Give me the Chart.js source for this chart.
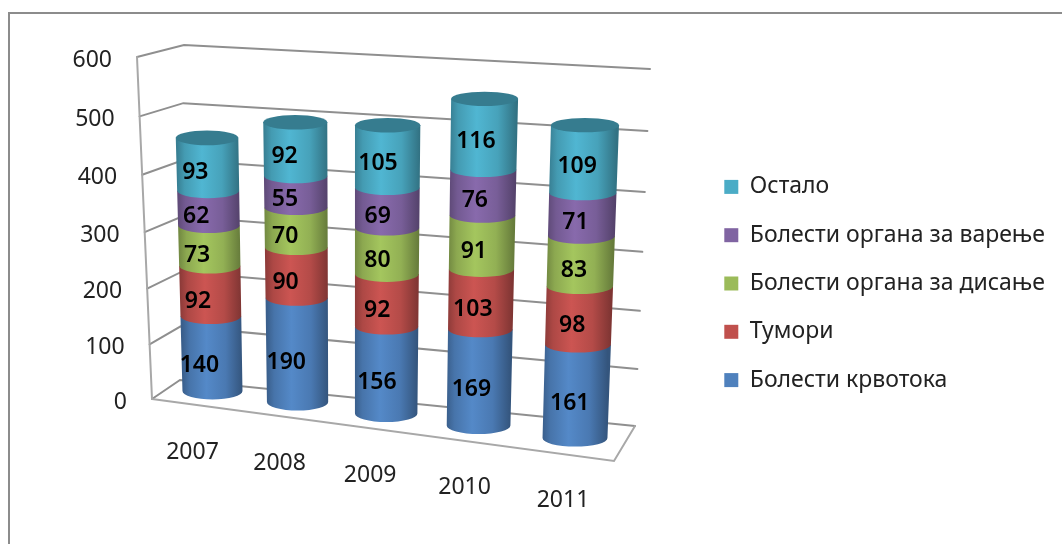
<!DOCTYPE html>
<html lang="sr">
<head>
  <meta charset="UTF-8">
  <title>Болести</title>
  <script src="https://cdn.jsdelivr.net/npm/chart.js@4"></script>
  <style>
    html, body { margin:0; padding:0; background:#fff; overflow:hidden; }
    #wrap { position:relative; width:1062px; height:544px; }
    #frame { position:absolute; left:8px; top:12px; width:1070px; height:560px; border:2px solid #8c8c8c; }
    canvas { position:absolute; left:0; top:0; }
  </style>
</head>
<body>
<div id="wrap">
  <div id="frame"></div>
  <canvas id="chart" width="1062" height="544"></canvas>
</div>

<script>
const years    = ['2007', '2008', '2009', '2010', '2011'];
const krvotok  = [140, 190, 156, 169, 161];
const tumori   = [92, 90, 92, 103, 98];
const disanje  = [73, 70, 80, 91, 83];
const varenje  = [62, 55, 69, 76, 71];
const ostalo   = [93, 92, 105, 116, 109];

const FONT = '"Noto Sans", "Open Sans", sans-serif';

// corners of the 3D box on screen, [x, y]
const frontL0 = [152, 399], frontL1 = [137, 57];
const backL0  = [180, 380], backL1  = [184, 45];
const backR0  = [635, 426], backR1  = [650, 69];
const frontR0 = [614, 461];
// plane the cylinders stand in
const midL0 = [171.2, 385.6], midR0 = [624.8, 444.6];
const midL1 = [161.9, 54.8],  midR1 = [638.9, 78.7];

const lerp = (a, b, t) => a + (b - a) * t;
const mix  = (p, q, t) => [lerp(p[0], q[0], t), lerp(p[1], q[1], t)];
// small perspective squeeze along the two axes
const warp = (t, k) => t / (k - (k - 1) * t);

function project(u, v) {
  const uu = warp(u, 1.11), vv = warp(v, 1.05);
  return mix(mix(midL0, midR0, uu), mix(midL1, midR1, uu), vv);
}

function shade(rgb, f) {
  return `rgb(${rgb.map(c => Math.min(255, Math.round(c * f))).join(',')})`;
}

const cylinders = {
  id: 'cylinders',
  beforeDatasetsDraw(chart) {
    const { ctx, chartArea: area, scales } = chart;
    const yScale = scales.y;
    const W = midR0[0] - midL0[0];
    const toU = px => (px - area.left) / area.width;
    const toV = px => (area.bottom - px) / area.height;

    ctx.save();
    ctx.lineCap = 'round';

    // walls and floor
    ctx.strokeStyle = '#8f8f8f';
    ctx.lineWidth = 2;
    const line = pts => {
      ctx.beginPath();
      pts.forEach((p, i) => i ? ctx.lineTo(p[0], p[1]) : ctx.moveTo(p[0], p[1]));
      ctx.stroke();
    };
    yScale.ticks.forEach(t => {
      const v = warp(toV(yScale.getPixelForValue(t.value)), 1.05);
      line([mix(frontL0, frontL1, v), mix(backL0, backL1, v), mix(backR0, backR1, v)]);
    });
    ctx.strokeStyle = '#a8a8a8';
    line([frontL0, frontL1]);
    line([frontL0, frontR0, backR0]);

    // axis text
    ctx.fillStyle = '#222';
    ctx.font = `23px ${FONT}`;
    ctx.textBaseline = 'middle';
    ctx.textAlign = 'right';
    yScale.ticks.forEach(t => {
      const v = warp(toV(yScale.getPixelForValue(t.value)), 1.05);
      const p = mix(frontL0, frontL1, v);
      ctx.fillText(t.label, p[0] - 25, p[1] + 3);
    });

    ctx.textAlign = 'center';
    const metas = chart.getSortedVisibleDatasetMetas();
    metas[0].data.forEach((bar, i) => {
      const u = toU(bar.x), p = project(u, 0);
      const floorY = lerp(frontL0[1], frontR0[1], (p[0] - frontL0[0]) / (frontR0[0] - frontL0[0]));
      ctx.fillText(years[i], p[0] + lerp(-21, -11, u), floorY + 45);
    });

    // cylinders, bottom segment first so each upper edge bulges over the one below
    metas[0].data.forEach((_, i) => {
      metas.forEach((meta, m) => {
        const bar = meta.data[i];
        const u = toU(bar.x), vTop = toV(bar.y), vBase = toV(bar.base);
        const size = v => bar.width / area.width * W * lerp(0.97, 1.07, u) * (1 + 0.055 * v);
        const ry = v => lerp(8.5, 7, v);
        const top = project(u, vTop), base = project(u, vBase);
        const rt = size(vTop) / 2, rb = size(vBase) / 2;
        const col = meta._dataset.baseRgb;

        const g = ctx.createLinearGradient(base[0] - rb, 0, base[0] + rb, 0);
        g.addColorStop(0, shade(col, 0.74));
        g.addColorStop(0.12, shade(col, 0.9));
        g.addColorStop(0.4, shade(col, 1.06));
        g.addColorStop(0.72, shade(col, 0.94));
        g.addColorStop(1, shade(col, 0.66));
        ctx.fillStyle = g;
        ctx.beginPath();
        ctx.moveTo(top[0] - rt, top[1]);
        ctx.lineTo(base[0] - rb, base[1]);
        ctx.ellipse(base[0], base[1], rb, ry(vBase), 0, Math.PI, 0, true);
        ctx.lineTo(top[0] + rt, top[1]);
        ctx.closePath();
        ctx.fill();

        if (m === metas.length - 1) {
          ctx.fillStyle = shade(col, 0.72);
          ctx.beginPath();
          ctx.ellipse(top[0], top[1], rt, ry(vTop), 0, 0, Math.PI * 2);
          ctx.fill();
        }
      });
    });

    // value labels
    ctx.fillStyle = '#000';
    ctx.font = `600 23px ${FONT}`;
    metas.forEach(meta => {
      meta.data.forEach((bar, i) => {
        const u = toU(bar.x), vm = (toV(bar.y) + toV(bar.base)) / 2;
        const p = project(u, vm);
        const val = meta._dataset.data[i];
        ctx.fillText(String(val), p[0] + lerp(-13, -6, u), p[1] + lerp(13, 7, vm / 0.8));
      });
    });

    ctx.restore();
    return false; // bars are replaced by the cylinders above
  }
};

const series = (label, data, rgb) => ({
  label, data, baseRgb: rgb,
  backgroundColor: `rgb(${rgb.join(',')})`,
  borderWidth: 0, barPercentage: 0.9, categoryPercentage: 0.75
});

new Chart(document.getElementById('chart'), {
  type: 'bar',
  data: {
    labels: years,
    datasets: [
      series('Болести крвотока', krvotok, [79, 129, 189]),
      series('Тумори', tumori, [192, 80, 77]),
      series('Болести органа за дисање', disanje, [155, 187, 89]),
      series('Болести органа за варење', varenje, [128, 100, 162]),
      series('Остало', ostalo, [75, 172, 198])
    ]
  },
  options: {
    responsive: false,
    animation: false,
    layout: { padding: { top: 23, right: 7, bottom: 0, left: 0 } },
    scales: {
      x: { stacked: true, display: false },
      y: { stacked: true, display: false, min: 0, max: 600, ticks: { stepSize: 100 } }
    },
    plugins: {
      tooltip: { enabled: false },
      legend: {
        position: 'right',
        reverse: true,
        onClick: null,
        labels: {
          boxWidth: 14, boxHeight: 14, padding: 25.3,
          color: '#222',
          font: { family: FONT, size: 23 }
        }
      }
    }
  },
  plugins: [cylinders]
});
</script>
</body>
</html>
